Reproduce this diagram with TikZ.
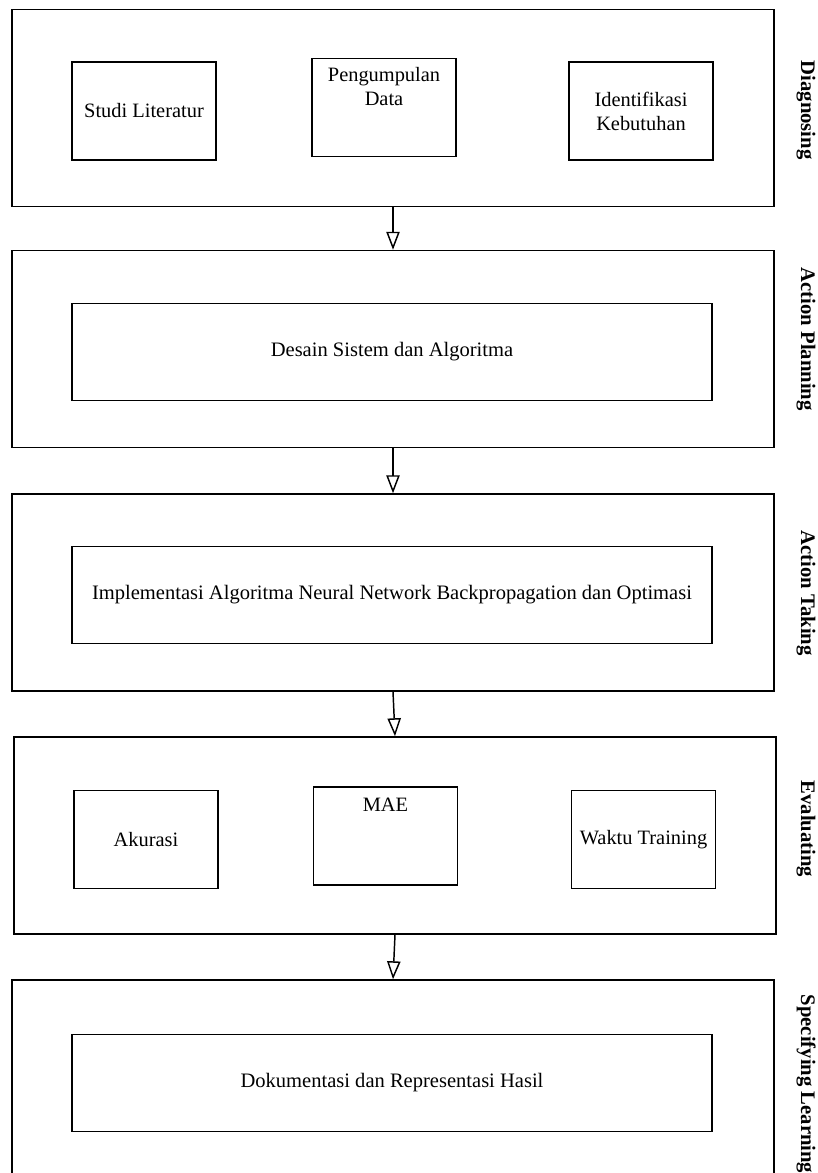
\documentclass[tikz,border=0pt]{standalone}
\usepackage{fontspec}
\setmainfont{Liberation Serif}
\usetikzlibrary{arrows.meta}

\tikzset{every picture/.style={line width=1.1pt}}
\tikzset{
  outerbox/.style={draw, inner sep=0pt, minimum width=571.5pt, minimum height=147.75pt},
  smallbox/.style={draw, inner sep=0pt, minimum width=108pt, minimum height=73.5pt, align=center, font=\fontsize{15.3}{18}\selectfont},
  widebox/.style={draw, inner sep=0pt, minimum width=480pt, minimum height=72.75pt, font=\fontsize{15.4}{18}\selectfont},
  boxtext/.style={inner sep=0pt, align=center, font=\fontsize{15.3}{18}\selectfont},
  sidelabel/.style={rotate=-90, anchor=base west, inner sep=0pt, font=\fontsize{15.5}{18}\selectfont\bfseries},
  flow/.style={-{Triangle[open, length=13.5pt, width=10pt]}}
}

\begin{document}
\begin{tikzpicture}[x=0.75pt,y=0.75pt,yscale=-1,xscale=1]
\useasboundingbox (0,0) rectangle (817,1173);

% Outer stages
\node[outerbox] (diag) at (393,108) {};
\node[outerbox] (plan) at (393,349) {};
\node[outerbox] (take) at (393,592.5) {};
\node[outerbox] (eval) at (395,835.5) {};
\node[outerbox] (spec) at (393,1078.5) {};

% Diagnosing
\node[smallbox] (studi) at (144,111) {Studi Literatur};
\node[smallbox] (peng) at (384,107.5) {};
\node[boxtext, anchor=base] (pengtext) at (384,106) {Pengumpulan\\Data};
\node[smallbox] (ident) at (641,111) {Identifikasi\\Kebutuhan};

% Action Planning
\node[widebox] (desain) at (392,352) {Desain Sistem dan Algoritma};

% Action Taking
\node[widebox] (impl) at (392,595) {Implementasi Algoritma Neural Network Backpropagation dan Optimasi};

% Evaluating
\node[smallbox] (akurasi) at (146,839.5) {Akurasi};
\node[smallbox] (mae) at (385.5,836) {};
\node[boxtext, anchor=base] (maetext) at (385.5,811) {MAE};
\node[smallbox] (waktu) at (643.5,839.5) {Waktu Training};

% Specifying Learning
\node[widebox] (dok) at (392,1083) {Dokumentasi dan Representasi Hasil};

% Text Node
\node[sidelabel] (ldiag) at (801,60) {Diagnosing};
% Text Node
\node[sidelabel] (lplan) at (801,267) {Action Planning};
% Text Node
\node[sidelabel] (ltake) at (801,530) {Action Taking};
% Text Node
\node[sidelabel] (leval) at (801,780) {Evaluating};
% Text Node
\node[sidelabel] (lspec) at (801,994) {Specifying Learning};

% Arrows
\draw[flow] (diag.south) -- (plan.north);
\draw[flow] (plan.south) -- (take.north);
\draw[flow] (take.south) -- (eval.north);
\draw[flow] (eval.south) -- (spec.north);

\end{tikzpicture}
\end{document}
